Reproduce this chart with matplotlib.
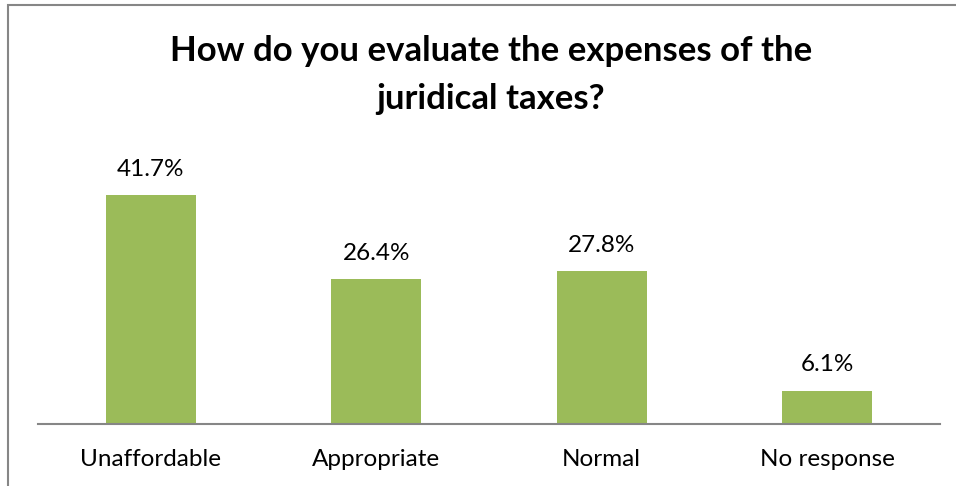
import matplotlib
matplotlib.use('Agg')
import matplotlib.pyplot as plt
from matplotlib.patches import Rectangle

# Survey answers on court fees
categories = ['Unaffordable', 'Appropriate', 'Normal', 'No response']
shares = [41.7, 26.4, 27.8, 6.1]
title_text = 'How do you evaluate the expenses of the\njuridical taxes?'

BAR_GREEN = '#9BBB59'
AXIS_GRAY = '#868686'
FONT = ['Lato', 'DejaVu Sans']

W, H = 956, 486
fig = plt.figure(figsize=(W / 100, H / 100), dpi=100)

# axes box in pixel terms, converted to figure fractions
left_px, right_px, base_px, top_px = 38, 940, 424, 177
ax = fig.add_axes([left_px / W, 1 - base_px / H,
                   (right_px - left_px) / W, (base_px - top_px) / H])

x = range(len(categories))
bars = ax.bar(x, shares, width=0.4, color=BAR_GREEN, zorder=2)

ax.set_xlim(-0.5, len(categories) - 0.5)
ax.set_ylim(0, 45)

for rect, val in zip(bars, shares):
    ax.annotate(f'{val:.1f}%', (rect.get_x() + rect.get_width() / 2, val),
                xytext=(0, 11), textcoords='offset points',
                ha='center', va='bottom', fontsize=17.5, family=FONT,
                color='black')

ax.set_xticks(list(x))
ax.set_xticklabels(categories, fontsize=17.5, family=FONT)
ax.tick_params(axis='x', length=0, pad=18)
ax.set_yticks([])

for side in ['top', 'right', 'left']:
    ax.spines[side].set_visible(False)
ax.spines['bottom'].set_color(AXIS_GRAY)
ax.spines['bottom'].set_linewidth(1.5)

fig.text(491 / W, 1 - 75 / H, title_text, ha='center', va='center',
         fontsize=25, fontweight='bold', family=FONT, linespacing=1.6)

# outer chart frame (only the top and left edges fall inside the image)
frame = Rectangle((8 / W, -0.1), 1.2, 1 - 5 / H + 0.1,
                  transform=fig.transFigure, fill=False,
                  edgecolor=AXIS_GRAY, linewidth=1.5)
fig.patches.append(frame)

fig.savefig('out.png', dpi=100)
